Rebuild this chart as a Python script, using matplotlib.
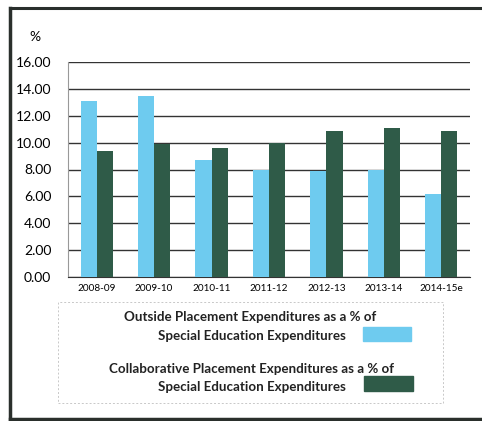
import numpy as np
import matplotlib
matplotlib.use('Agg')
import matplotlib.pyplot as plt
from matplotlib.patches import Rectangle
from matplotlib.lines import Line2D

# Dados
anos = ['2008-09', '2009-10', '2010-11', '2011-12', '2012-13', '2013-14', '2014-15e']
outside = [13.1, 13.5, 8.7, 8.0, 7.9, 8.0, 6.2]
collaborative = [9.4, 9.9, 9.6, 10.0, 10.9, 11.1, 10.9]
yticks = [0, 2, 4, 6, 8, 10, 12, 14, 16]

cor_clara = '#6ecbef'
cor_escura = '#2f5b48'
plt.rcParams['font.family'] = ['Lato', 'DejaVu Sans']

fig = plt.figure(figsize=(4.82, 4.21), dpi=100)
W, H = 482, 421

# moldura externa (lado direito cortado na imagem)
fig.add_artist(Line2D([10 / W, 10 / W], [1 - 8 / H, 1 - 419 / H], color='#2a2f2c', lw=2.5))
fig.add_artist(Line2D([10 / W, 1.0], [1 - 8 / H, 1 - 8 / H], color='#2a2f2c', lw=2.2))
fig.add_artist(Line2D([10 / W, 1.0], [1 - 419 / H, 1 - 419 / H], color='#2a2f2c', lw=2.5))

ax = fig.add_axes([68 / W, 1 - 277 / H, (470 - 68) / W, (277 - 62) / H])
x = np.arange(len(anos))
w = 0.28
ax.bar(x - w / 2, outside, w, color=cor_clara, zorder=3)
ax.bar(x + w / 2, collaborative, w, color=cor_escura, zorder=3)

ax.set_xlim(-0.5, len(anos) - 0.5)
ax.set_ylim(0, 16)
ax.set_yticks(yticks)
ax.set_yticklabels(['%.2f' % v for v in yticks], fontsize=10)
ax.set_xticks(x)
ax.set_xticklabels(anos, fontsize=7.2)
ax.tick_params(length=0, pad=5)
ax.tick_params(axis='y', pad=12)
ax.yaxis.grid(True, color='#333333', lw=1, zorder=0)
for lado in ['top', 'right']:
    ax.spines[lado].set_visible(False)
ax.spines['left'].set_color('#999999')
ax.spines['left'].set_linewidth(0.8)
ax.spines['bottom'].set_color('#333333')

fig.text(35 / W, 1 - 37 / H, '%', fontsize=10, ha='center', va='center')

# legenda desenhada à mão
fig.add_artist(Rectangle((58 / W, 1 - 403 / H), (443 - 58) / W, (403 - 302) / H,
                         transform=fig.transFigure, fill=False, edgecolor='#c8c8c8',
                         lw=0.7, ls=(0, (2, 2))))
linhas = [
    ('Outside Placement Expenditures as a % of', 250, 317),
    ('Special Education Expenditures', 252, 336),
    ('Collaborative Placement Expenditures as a % of', 251, 369),
    ('Special Education Expenditures', 252, 387),
]
for txt, cx, cy in linhas:
    fig.text(cx / W, 1 - cy / H, txt, fontsize=9.6, fontweight='bold', color='#222222',
             ha='center', va='center')
fig.add_artist(Rectangle((363 / W, 1 - 341 / H), 48 / W, 14 / H,
                         transform=fig.transFigure, color=cor_clara))
fig.add_artist(Rectangle((364 / W, 1 - 391 / H), 49 / W, 15 / H,
                         transform=fig.transFigure, color=cor_escura))

fig.savefig('out.png', dpi=100)
